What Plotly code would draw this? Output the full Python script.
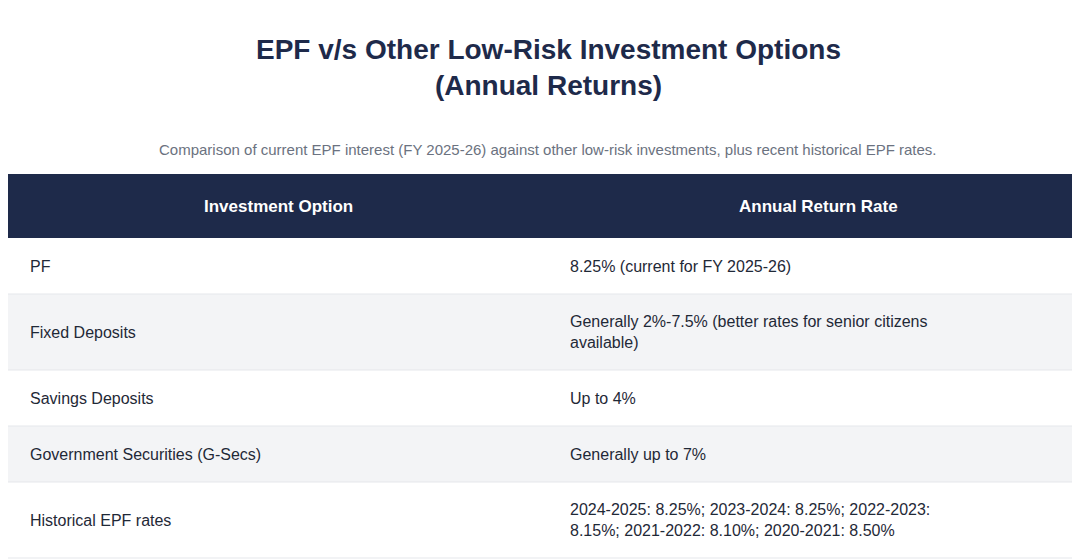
import plotly.graph_objects as go

header = ["Investment Option", "Annual Return Rate"]
options = ["PF", "Fixed Deposits", "Savings Deposits", "Government Securities (G-Secs)", "Historical EPF rates"]
rates = [
    "8.25% (current for FY 2025-26)",
    "Generally 2%-7.5% (better rates for senior citizens<br>available)",
    "Up to 4%",
    "Generally up to 7%",
    "2024-2025: 8.25%; 2023-2024: 8.25%; 2022-2023:<br>8.15%; 2021-2022: 8.10%; 2020-2021: 8.50%",
]
title = "EPF v/s Other Low-Risk Investment Options<br>(Annual Returns)"
subtitle = "Comparison of current EPF interest (FY 2025-26) against other low-risk investments, plus recent historical EPF rates."

navy = "#1e2a4a"
W, H = 1080, 560
font = "Liberation Sans"

fig = go.Figure()
shapes, ann = [], []
top = 166
hdr_h = 64
shapes.append(dict(type="rect", x0=0, x1=W, y0=top, y1=top + hdr_h, fillcolor=navy, line_width=0, layer="below"))
for j, h in enumerate(header):
    ann.append(dict(text="<b>%s</b>" % h, x=W / 4 + j * W / 2, y=top + hdr_h / 2, xanchor="center", yanchor="middle",
                    showarrow=False, font=dict(size=17, color="white", family=font)))
y = top + hdr_h
for i, (o, r) in enumerate(zip(options, rates)):
    lines = r.count("<br>") + 1
    rh = 36 + 20 * lines
    shapes.append(dict(type="rect", x0=0, x1=W, y0=y, y1=y + rh,
                       fillcolor="#ffffff" if i % 2 == 0 else "#f3f4f6", line_width=0, layer="below"))
    shapes.append(dict(type="line", x0=0, x1=W, y0=y + rh, y1=y + rh, line=dict(color="#e5e7eb", width=1)))
    for x, t in ((20, o), (560, r)):
        ann.append(dict(text=t, x=x, y=y + rh / 2, xanchor="left", yanchor="middle", align="left",
                        showarrow=False, font=dict(size=16, color="#1f2937", family=font)))
    y += rh

ann.append(dict(text="<b>%s</b>" % title, x=W / 2, y=59, xanchor="center", yanchor="middle", showarrow=False,
                font=dict(size=28, color=navy, family=font)))
ann.append(dict(text=subtitle, x=W / 2, y=141, xanchor="center", yanchor="middle", showarrow=False,
                font=dict(size=15, color="#6b7280", family=font)))

fig.update_layout(
    width=W, height=H, margin=dict(l=0, r=0, t=0, b=0),
    paper_bgcolor="white", plot_bgcolor="white",
    xaxis=dict(range=[0, W], visible=False, fixedrange=True),
    yaxis=dict(range=[H, 0], visible=False, fixedrange=True),
    shapes=shapes, annotations=ann, showlegend=False,
)
fig.write_html("out.html")
